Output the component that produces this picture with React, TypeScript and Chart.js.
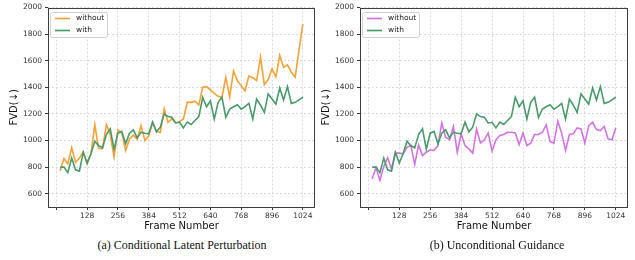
import React, { useEffect, useRef } from 'react';
import { Chart, registerables } from 'chart.js';

Chart.register(...registerables);

const frames = [
  16, 32, 48, 64, 80, 96, 112, 128,
  144, 160, 176, 192, 208, 224, 240, 256,
  272, 288, 304, 320, 336, 352, 368, 384,
  400, 416, 432, 448, 464, 480, 496, 512,
  528, 544, 560, 576, 592, 608, 624, 640,
  656, 672, 688, 704, 720, 736, 752, 768,
  784, 800, 816, 832, 848, 864, 880, 896,
  912, 928, 944, 960, 976, 992, 1008, 1024,
];

// (a) Conditional Latent Perturbation — "without"
const withoutPerturb = [
  770, 865, 825, 945, 835, 868, 915, 825,
  900, 1118, 940, 938, 1118, 1045, 875, 1080,
  1058, 925, 1010, 1040, 1010, 1112, 1000, 1035,
  1135, 1070, 1060, 1238, 1137, 1162, 1132, 1142,
  1162, 1288, 1287, 1295, 1267, 1400, 1405, 1380,
  1355, 1332, 1325, 1475, 1328, 1522, 1450, 1412,
  1375, 1486, 1472, 1450, 1627, 1420, 1458, 1539,
  1478, 1640, 1551, 1569, 1514, 1476, 1680, 1875,
];

// "with" (same in both panels)
const withValues = [
  800, 800, 758, 868, 780, 770, 912, 830,
  900, 995, 960, 945, 1045, 1088, 935, 1055,
  1068, 975, 1055, 1080, 1020, 1063, 1055, 1050,
  1138, 1065, 1100, 1200, 1180, 1175, 1132, 1137,
  1095, 1138, 1120, 1150, 1180, 1325, 1254, 1299,
  1161, 1287, 1325, 1173, 1236, 1254, 1269, 1236,
  1254, 1279, 1161, 1312, 1267, 1211, 1350, 1312,
  1274, 1395, 1304, 1405, 1279, 1287, 1305, 1325,
];

// (b) Unconditional Guidance — "without"
const withoutGuidance = [
  712, 795, 700, 805, 870, 787, 905, 905,
  900, 950, 962, 820, 967, 887, 912, 930,
  925, 962, 1132, 1025, 1005, 1105, 912, 1050,
  962, 937, 905, 1087, 980, 1005, 1055, 920,
  1005, 1037, 1045, 1062, 1062, 1057, 970, 1055,
  962, 980, 1045, 1045, 1062, 1117, 992, 980,
  1145, 1055, 925, 1045, 1050, 1095, 1087, 980,
  1112, 1137, 1082, 1075, 1105, 1012, 1005, 1095,
];

const xTicks = [0, 128, 256, 384, 512, 640, 768, 896, 1024];
const yTicks = [600, 800, 1000, 1200, 1400, 1600, 1800, 2000];
const seriesLabels = ['without', 'with'];
const captions = ['(a) Conditional Latent Perturbation', '(b) Unconditional Guidance'];

const FONT = "'DejaVu Sans', sans-serif";

const framePlugin = {
  id: 'frameBox',
  afterDatasetsDraw(chart: any) {
    const { ctx, chartArea: a } = chart;
    ctx.save();
    ctx.strokeStyle = '#3d3d3d';
    ctx.lineWidth = 1;
    ctx.strokeRect(Math.round(a.left) + 0.5, Math.round(a.top) + 0.5,
      Math.round(a.right - a.left) - 1, Math.round(a.bottom - a.top) - 1);
    ctx.restore();
  },
};

const legendPlugin = {
  id: 'innerLegend',
  afterDraw(chart: any) {
    const { ctx, chartArea: a } = chart;
    const x = Math.round(a.left) + 2.5;
    const y = Math.round(a.top) + 4.5;
    const w = 57;
    const h = 25;
    const r = 2;
    ctx.save();
    ctx.beginPath();
    ctx.moveTo(x + r, y);
    ctx.lineTo(x + w - r, y);
    ctx.quadraticCurveTo(x + w, y, x + w, y + r);
    ctx.lineTo(x + w, y + h - r);
    ctx.quadraticCurveTo(x + w, y + h, x + w - r, y + h);
    ctx.lineTo(x + r, y + h);
    ctx.quadraticCurveTo(x, y + h, x, y + h - r);
    ctx.lineTo(x, y + r);
    ctx.quadraticCurveTo(x, y, x + r, y);
    ctx.closePath();
    ctx.fillStyle = 'rgba(255,255,255,0.85)';
    ctx.fill();
    ctx.strokeStyle = '#d0d0d0';
    ctx.lineWidth = 1;
    ctx.stroke();
    chart.data.datasets.forEach((ds: any, i: number) => {
      const ry = y + 6 + i * 12;
      ctx.beginPath();
      ctx.strokeStyle = ds.borderColor;
      ctx.lineWidth = 1.7;
      ctx.moveTo(x + 4.5, ry);
      ctx.lineTo(x + 19.5, ry);
      ctx.stroke();
      ctx.fillStyle = '#222';
      ctx.font = `7.5px ${FONT}`;
      ctx.textBaseline = 'middle';
      ctx.fillText(ds.label, x + 25.5, ry);
    });
    ctx.restore();
  },
};

function Panel(props: { without: number[]; withoutColor: string; left: number; width: number }) {
  const ref = useRef<HTMLCanvasElement>(null);
  useEffect(() => {
    const canvas = ref.current;
    if (!canvas) return;
    const chart = new Chart(canvas, {
      type: 'line',
      data: {
        datasets: [
          {
            label: seriesLabels[0],
            data: frames.map((f, i) => ({ x: f, y: props.without[i] })),
            borderColor: props.withoutColor,
            borderWidth: 1.6,
            pointRadius: 0,
            tension: 0,
            order: 1,
          },
          {
            label: seriesLabels[1],
            data: frames.map((f, i) => ({ x: f, y: withValues[i] })),
            borderColor: '#4a9a6b',
            borderWidth: 1.6,
            pointRadius: 0,
            tension: 0,
            order: 0,
          },
        ],
      },
      options: {
        animation: false,
        responsive: false,
        devicePixelRatio: 1,
        events: [],
        layout: { padding: { left: 0, right: 2, top: 6, bottom: 0 } },
        plugins: { legend: { display: false }, tooltip: { enabled: false } },
        scales: {
          x: {
            type: 'linear',
            min: -34.4,
            max: 1074.4,
            afterBuildTicks: (s: any) => { s.ticks = xTicks.map((v) => ({ value: v })); },
            afterFit: (s: any) => { s.height = 28; },
            ticks: {
              callback: (v: any) => (v === 0 ? '' : String(v)),
              font: { family: FONT, size: 7.5 },
              color: '#333',
              padding: 2,
              maxRotation: 0,
              autoSkip: false,
            },
            grid: {
              color: '#c9d2e0',
              lineWidth: 0.8,
              tickLength: 3,
              tickColor: '#333',
              tickWidth: 1,
            },
            border: { display: false, dash: [2, 2] },
            title: {
              display: true,
              text: 'Frame Number',
              font: { family: FONT, size: 10 },
              color: '#111',
              padding: { top: 0, bottom: 3 },
            },
          },
          y: {
            type: 'linear',
            min: 500,
            max: 2000,
            afterBuildTicks: (s: any) => { s.ticks = yTicks.map((v) => ({ value: v })); },
            afterFit: (s: any) => { s.width = 48; },
            ticks: {
              callback: (v: any) => String(v),
              font: { family: FONT, size: 7.5 },
              color: '#333',
              padding: 3,
            },
            grid: {
              color: '#c9d2e0',
              lineWidth: 0.8,
              tickLength: 3,
              tickColor: '#333',
              tickWidth: 1,
            },
            border: { display: false, dash: [2, 2] },
            title: {
              display: true,
              text: 'FVD(↓)',
              font: { family: FONT, size: 10 },
              color: '#111',
              padding: { top: 8, bottom: 0 },
            },
          },
        },
      },
      plugins: [framePlugin, legendPlugin],
    } as any);
    return () => chart.destroy();
  }, []);
  return (
    <canvas
      ref={ref}
      width={props.width}
      height={235}
      style={{ position: 'absolute', left: props.left, top: 0, width: props.width, height: 235 }}
    />
  );
}

export default function App() {
  const capStyle = (cx: number): React.CSSProperties => ({
    position: 'absolute',
    left: cx - 150,
    width: 300,
    top: 237,
    textAlign: 'center',
    fontFamily: "'Liberation Serif', 'Times New Roman', serif",
    fontSize: 12,
    lineHeight: '16px',
    color: '#111',
    whiteSpace: 'nowrap',
  });
  return (
    <div style={{ position: 'fixed', left: 0, top: 0, width: 635, height: 260, background: '#fff', overflow: 'hidden' }}>
      <Panel without={withoutPerturb} withoutColor="#f5a236" left={0} width={317} />
      <Panel without={withoutGuidance} withoutColor="#d274e0" left={312} width={318} />
      <div style={capStyle(182)}>{captions[0]}</div>
      <div style={capStyle(497)}>{captions[1]}</div>
    </div>
  );
}
